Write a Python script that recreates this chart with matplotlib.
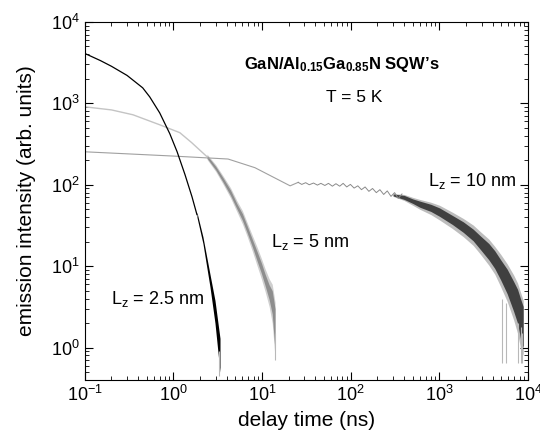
import matplotlib
matplotlib.use("Agg")
import matplotlib.pyplot as plt
from matplotlib.ticker import LogLocator, NullFormatter

plt.rcParams["font.family"] = ["Liberation Sans", "DejaVu Sans"]
plt.rcParams["mathtext.fontset"] = "custom"
plt.rcParams["mathtext.rm"] = "Liberation Sans"
plt.rcParams["mathtext.it"] = "Liberation Sans:italic"
plt.rcParams["mathtext.bf"] = "Liberation Sans:bold"

# Lz = 2.5 nm (black)
t25 = [0.1, 0.15, 0.2, 0.3, 0.45, 0.54, 0.7, 0.91, 1.1, 1.35, 1.62, 1.84]
y25 = [4100, 3350, 2850, 2200, 1550, 1200, 763, 423, 254, 133, 71, 43]
t25_tail = [1.84, 2.15, 2.58, 2.94, 3.35]
lo25_tail = [40, 19, 5.6, 2.0, 0.5]
hi25_tail = [46, 23, 8.0, 3.8, 1.3]

# Lz = 5 nm (light gray)
t5 = [0.1, 0.2, 0.35, 0.7, 1.18, 1.6, 2.39]
y5 = [906, 830, 723, 545, 436, 330, 221]
t5_tail = [2.39, 3.0, 3.62, 4.4, 5.22, 6.0, 6.8, 7.8, 8.8, 9.8, 10.8, 12.0, 13.0, 14.0]
lo5_tail = [212, 152, 108, 74, 50, 36.5, 25.5, 17, 11.5, 8.2, 5.8, 3.9, 2.6, 0.9]
hi5_tail = [230, 168, 122, 86, 58, 44, 31, 21, 15, 11, 8, 5.9, 5.0, 3.0]
lo5_edge = [205, 145, 102, 69, 46, 33, 23, 15, 10, 7.0, 4.9, 3.2, 2.0, 0.75]
hi5_edge = [238, 176, 129, 92, 63, 48, 34, 23.5, 17, 12.5, 9.3, 7.0, 6.0, 3.6]

# Lz = 10 nm (gray)
t10 = [0.1, 1.0, 4.13, 8.3, 20.7, 25.5]
y10 = [254, 225, 207, 162, 97, 107]
t10_wig = [25.5, 28, 31, 34, 38, 42, 46, 51, 56, 62, 68, 75, 82, 90, 99, 109,
           120, 132, 145, 160, 176, 194, 213, 235, 258, 284, 312, 343, 378]
y10_wig = [107, 101, 106, 100, 105, 99, 104, 98, 104, 96, 103, 96, 104, 94, 101, 91,
           97, 87, 94, 83, 90, 80, 87, 76, 84, 72, 80, 68, 77]
t10_tail = [300, 400, 500, 600, 800, 1000, 1400, 1860, 2400, 2900, 3600, 4200,
            4900, 5800, 6860, 7600, 8200, 8800]
lo10_tail = [73, 66, 59, 53, 47, 41, 32.5, 26, 20.5, 16, 12, 9.4, 6.8, 4.6, 2.8, 2.0, 1.3, 1.0]
hi10_tail = [77, 74, 67, 63, 57.5, 52, 42, 35, 28.5, 23.5, 19, 15.5, 12, 9.2, 6.5, 5.2, 4.0, 3.2]
lo10_edge = [72, 64, 56, 50, 43, 37, 29, 23, 18, 14, 10.3, 8.0, 5.6, 3.7, 2.2, 1.5, 1.0, 0.8]
hi10_edge = [78, 76, 70, 66, 61, 56, 46, 38.5, 32, 26.5, 21.5, 17.5, 14, 10.7, 7.8, 6.2, 4.8, 3.8]

# deep noise spikes at the ends of the decays
spike_t = [3.3, 14.0, 5100, 5600, 7700, 8300, 8600]
spike_lo = [0.45, 0.7, 0.65, 0.65, 0.65, 0.65, 0.65]
spike_hi = [0.9, 1.5, 4.0, 3.5, 2.0, 1.8, 1.5]

fig = plt.figure(figsize=(5.4, 4.38), dpi=100)
ax = fig.add_axes([0.157, 0.1324, 0.821, 0.8176])

ax.plot(t10, y10, color="#a0a0a0", lw=0.8)
ax.plot(t10_wig, y10_wig, color="#8a8a8a", lw=0.7)
ax.fill_between(t10_tail, lo10_edge, hi10_edge, color="#bdbdbd", lw=0)
ax.fill_between(t10_tail, lo10_tail, hi10_tail, color="#404040", lw=0)

ax.plot(t5, y5, color="#c4c4c4", lw=1.0)
ax.fill_between(t5_tail, lo5_edge, hi5_edge, color="#cfcfcf", lw=0)
ax.fill_between(t5_tail, lo5_tail, hi5_tail, color="#8e8e8e", lw=0)

ax.plot(t25, y25, color="black", lw=0.9)
ax.fill_between(t25_tail, lo25_tail, hi25_tail, color="black", lw=0)

ax.vlines(spike_t, spike_lo, spike_hi, color="#b8b8b8", lw=0.8)

ax.set_xscale("log")
ax.set_yscale("log")
ax.set_xlim(0.1, 1e4)
ax.set_ylim(0.4, 1e4)
ax.xaxis.set_major_locator(LogLocator(base=10, numticks=10))
ax.yaxis.set_major_locator(LogLocator(base=10, numticks=10))
ax.xaxis.set_minor_locator(LogLocator(base=10, subs=range(2, 10), numticks=20))
ax.yaxis.set_minor_locator(LogLocator(base=10, subs=range(2, 10), numticks=20))
ax.xaxis.set_minor_formatter(NullFormatter())
ax.yaxis.set_minor_formatter(NullFormatter())
ax.tick_params(which="both", direction="in", top=True, right=True, labelsize=13)
ax.tick_params(which="major", length=6, width=0.8)
ax.tick_params(which="minor", length=3, width=0.6)
for s in ax.spines.values():
    s.set_linewidth(0.8)

ax.set_xlabel("delay time (ns)", fontsize=15, labelpad=4)
ax.set_ylabel("emission intensity (arb. units)", fontsize=15, labelpad=11)

ax.text(0.58, 0.88, r"GaN/Al$_{\mathbf{0.15}}$Ga$_{\mathbf{0.85}}$N SQW’s",
        transform=ax.transAxes, ha="center", va="center", fontsize=12, fontweight="bold")
ax.text(0.607, 0.79, "T = 5 K", transform=ax.transAxes, ha="center", va="center", fontsize=12.5)
ax.text(2360, 110, r"L$_{\mathrm{z}}$ = 10 nm", ha="center", va="center", fontsize=13)
ax.text(34.8, 20, r"L$_{\mathrm{z}}$ = 5 nm", ha="center", va="center", fontsize=13)
ax.text(0.67, 3.9, r"L$_{\mathrm{z}}$ = 2.5 nm", ha="center", va="center", fontsize=13)

fig.savefig("out.png", dpi=100)
